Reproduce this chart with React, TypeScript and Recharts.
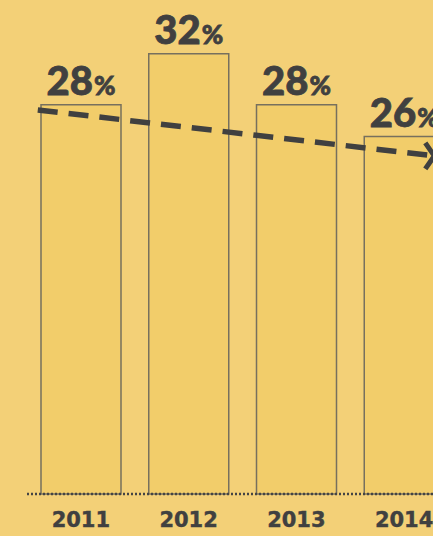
import React from "react";
import { ComposedChart, Bar, Line, XAxis, YAxis, LabelList } from "recharts";

const years = ["2011", "2012", "2013", "2014"];
const shares = [28.2, 31.9, 28.2, 25.9];
const shareLabels = ["28", "32", "28", "26"];
const trendPos = [0.1, 3.78];
const trendValues = [27.83, 24.5];

const barData = years.map((y, i) => ({ year: y, share: shares[i], label: shareLabels[i] }));
const trendData = trendPos.map((t, i) => ({ t, v: trendValues[i] }));

const INK = "#404040";

const renderLabel = (props: any) => {
  const { x, y, width, index } = props;
  const cx = Number(x) + Number(width) / 2;
  return (
    <text
      x={cx}
      y={Number(y) - 10}
      textAnchor="middle"
      fill={INK}
      stroke={INK}
      strokeWidth={0.8}
      fontFamily="Lato, Roboto, 'DejaVu Sans', sans-serif"
      fontWeight={900}
    >
      <tspan fontSize={40}>{shareLabels[index]}</tspan>
      <tspan fontSize={26} dx={1}>%</tspan>
    </text>
  );
};

const renderDot = (props: any) => {
  const { cx, cy, index } = props;
  if (index !== trendData.length - 1) return <g key={`d${index}`} />;
  return (
    <path
      key={`d${index}`}
      d={`M${cx - 9},${cy - 13} L${cx},${cy} L${cx - 9},${cy + 13}`}
      stroke={INK}
      strokeWidth={5}
      fill="none"
    />
  );
};

export default function App() {
  return (
    <div
      style={{
        position: "absolute",
        left: 0,
        top: 0,
        width: 433,
        height: 536,
        overflow: "hidden",
        background: "#F3D077",
      }}
    >
      <ComposedChart
        width={470}
        height={536}
        data={barData}
        margin={{ top: 11, right: 12, bottom: 0, left: 27 }}
      >
        <XAxis
          xAxisId="cat"
          dataKey="year"
          height={42}
          tickLine={false}
          tickSize={0}
          tickMargin={18}
          axisLine={{ stroke: "#444", strokeWidth: 2.5, strokeDasharray: "2 2" }}
          tick={{ fill: INK, stroke: INK, strokeWidth: 0.4, fontSize: 21, fontWeight: 700, fontFamily: "'DejaVu Sans', sans-serif" }}
          interval={0}
        />
        <XAxis xAxisId="trend" type="number" dataKey="t" domain={[0, 4]} hide />
        <YAxis domain={[0, 35]} hide />
        <Bar
          xAxisId="cat"
          dataKey="share"
          barSize={80}
          fill="#F2CD6A"
          stroke="#77705E"
          strokeWidth={1.5}
          isAnimationActive={false}
        >
          <LabelList dataKey="share" content={renderLabel} />
        </Bar>
        <Line
          xAxisId="trend"
          data={trendData}
          dataKey="v"
          type="linear"
          stroke={INK}
          strokeWidth={5.5}
          strokeDasharray="20 11"
          dot={renderDot}
          activeDot={false}
          isAnimationActive={false}
        />
      </ComposedChart>
    </div>
  );
}
